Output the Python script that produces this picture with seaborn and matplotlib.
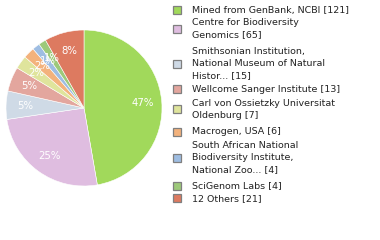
import matplotlib
matplotlib.use("Agg")
import matplotlib.pyplot as plt
import seaborn as sns
from matplotlib.patches import Rectangle

sns.set_style("white")
plt.rcParams['font.family'] = ['DejaVu Sans']

labels = [
    "Mined from GenBank, NCBI [121]",
    "Centre for Biodiversity\nGenomics [65]",
    "Smithsonian Institution,\nNational Museum of Natural\nHistor... [15]",
    "Wellcome Sanger Institute [13]",
    "Carl von Ossietzky Universitat\nOldenburg [7]",
    "Macrogen, USA [6]",
    "South African National\nBiodiversity Institute,\nNational Zoo... [4]",
    "SciGenom Labs [4]",
    "12 Others [21]",
]
values = [121, 65, 15, 13, 7, 6, 4, 4, 21]
colors = ['#a1d95b', '#dfbde0', '#cfdae6', '#e3a69e', '#dfe49c',
          '#f3b27c', '#9ebde2', '#9dc97a', '#dd7a60']

# legend layout (pixel y of first text line of each entry, from top)
first_line_y = [10, 22.7, 51.7, 89.3, 103.3, 131.7, 146, 186, 198.3]
line_h = 11.8

W, H = 380, 240
fig = plt.figure(figsize=(W / 100, H / 100), dpi=100)
ax = fig.add_axes([6 / W, 54 / H, 156 / W, 156 / H])

def fmt(p):
    return f"{int(p)}%"

wedges, texts, autotexts = ax.pie(
    values, colors=colors, startangle=90, counterclock=False,
    autopct=fmt, pctdistance=0.76,
    wedgeprops=dict(edgecolor='white', linewidth=0.4),
    textprops=dict(color='white', fontsize=7.3))
ax.set_xlim(-1, 1)
ax.set_ylim(-1, 1)
ax.set_aspect('equal')

for lab, col, y0 in zip(labels, colors, first_line_y):
    lines = lab.split("\n")
    n = len(lines)
    yc = y0 + (n - 1) * line_h / 2
    fig.patches.append(Rectangle(((173) / W, 1 - (yc + 4) / H), 8 / W, 8 / H,
                                 transform=fig.transFigure, facecolor=col,
                                 edgecolor='#7f7f7f', linewidth=0.9))
    for i, ln in enumerate(lines):
        fig.text(192 / W, 1 - (y0 + i * line_h) / H, ln, fontsize=6.8,
                 color='#222222', va='center', ha='left')

fig.savefig("out.png", dpi=100)
